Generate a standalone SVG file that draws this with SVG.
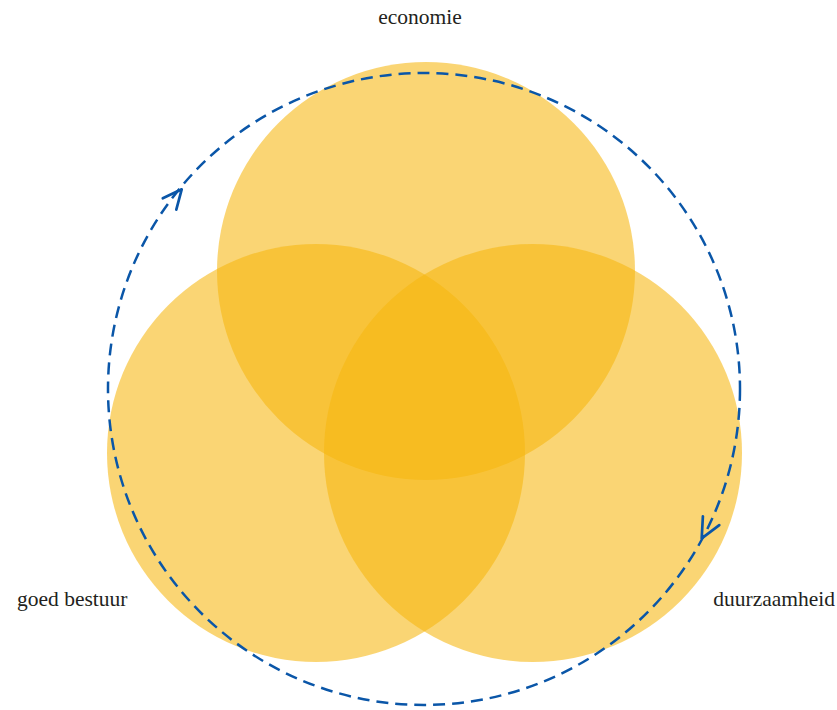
<svg xmlns="http://www.w3.org/2000/svg" width="837" height="710" viewBox="0 0 837 710">
<style>
.c{fill:#f7b610;fill-opacity:0.58;stroke:none}
.lbl{font-family:"Liberation Serif","DejaVu Serif",serif;font-size:21.5px;fill:#231f20}
.cyc{fill:none;stroke:#0a56a8;stroke-width:2.5;stroke-dasharray:12 7}
.ah{fill:none;stroke:#0a56a8;stroke-width:2.7;stroke-linecap:round;stroke-linejoin:round}
</style>
<rect width="837" height="710" fill="#ffffff"/>
<g id="economie">
<circle class="c" cx="426" cy="271" r="209"/>
<text class="lbl" x="420" y="24" text-anchor="middle">economie</text>
</g>
<g id="goed-bestuur">
<circle class="c" cx="316" cy="453" r="209"/>
<text class="lbl" x="17" y="606">goed bestuur</text>
</g>
<g id="duurzaamheid">
<circle class="c" cx="533" cy="453" r="209"/>
<text class="lbl" x="835" y="606" text-anchor="end">duurzaamheid</text>
</g>
<g id="connectors">
<circle class="cyc" cx="424" cy="389" r="316"/>
<polyline class="ah" points="162.8,198.3 181.7,189.3 176.3,209.6"/>
<polyline class="ah" points="719.3,525.1 701.7,538.3 702.9,516.3"/>
</g>
</svg>
